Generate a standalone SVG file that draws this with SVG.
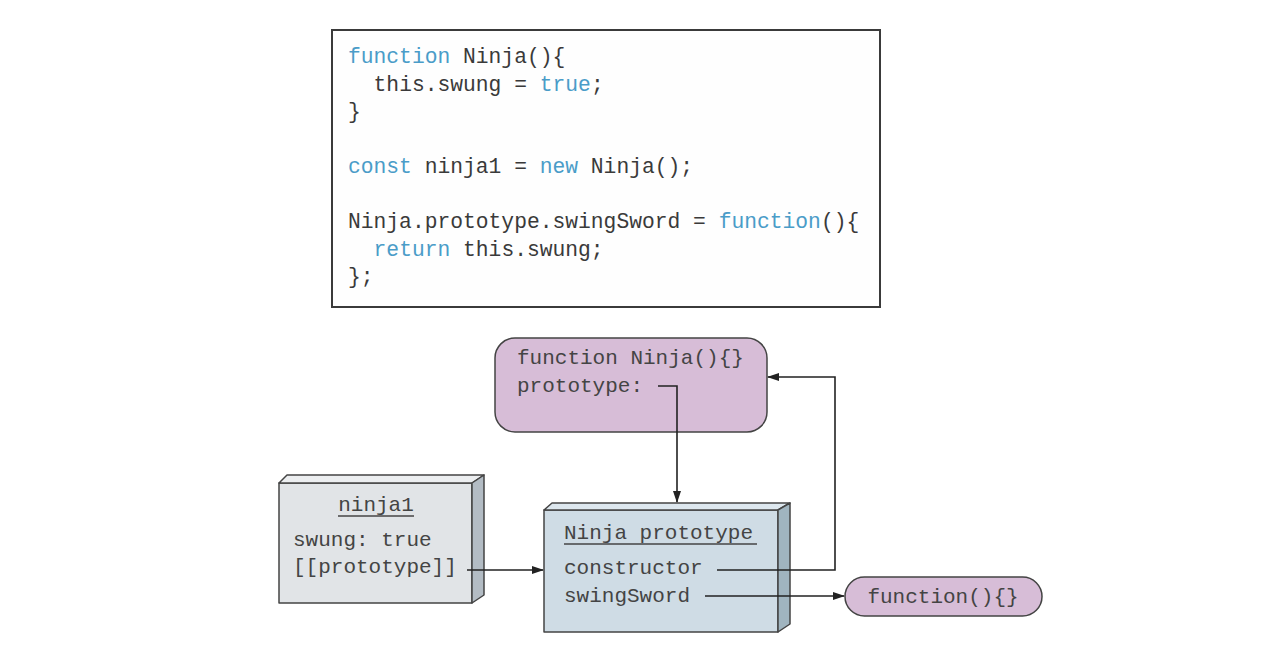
<svg xmlns="http://www.w3.org/2000/svg" width="1280" height="648" viewBox="0 0 1280 648">
<style>
.code{font-family:"Liberation Mono","DejaVu Sans Mono",monospace;font-size:21.3px;fill:#3a3a3a}
.kw{fill:#4a9cc8}
.t{font-family:"Liberation Mono","DejaVu Sans Mono",monospace;font-size:21px;fill:#444}
.edge{fill:none;stroke:#222;stroke-width:1.6}
.ul{stroke:#444;stroke-width:1.5}
.box{stroke:#444;stroke-width:1.5;stroke-linejoin:round}
</style>
<defs>
<marker id="ah" markerWidth="12" markerHeight="10" refX="11" refY="5" orient="auto" markerUnits="userSpaceOnUse">
<path d="M0,1 L12,5 L0,9 Z" fill="#222"/>
</marker>
</defs>
<rect width="1280" height="648" fill="#ffffff"/>
<g id="code">
<rect x="332" y="30" width="548" height="277" fill="#fefefe" stroke="#3a3a3a" stroke-width="2"/>
<text class="code" x="348" y="63"><tspan class="kw">function</tspan> Ninja(){</text>
<text class="code" x="373.6" y="90.5">this.swung = <tspan class="kw">true</tspan>;</text>
<text class="code" x="348" y="118">}</text>
<text class="code" x="348" y="173"><tspan class="kw">const</tspan> ninja1 = <tspan class="kw">new</tspan> Ninja();</text>
<text class="code" x="348" y="228">Ninja.prototype.swingSword = <tspan class="kw">function</tspan>(){</text>
<text class="code" x="373.6" y="256"><tspan class="kw">return</tspan> this.swung;</text>
<text class="code" x="348" y="283">};</text>
</g>
<g id="ninjaFn">
<rect x="495" y="338" width="272" height="94" rx="20" fill="#d7bdd7" class="box"/>
<text class="t" x="517" y="364">function Ninja(){}</text>
<text class="t" x="517" y="392">prototype:</text>
</g>
<g id="ninja1">
<rect x="279" y="483" width="193" height="120" fill="#e1e4e7" class="box"/>
<polygon points="279,483 287,475 484,475 472,483" fill="#eceef0" class="box"/>
<polygon points="472,483 484,475 484,595 472,603" fill="#b3bcc4" class="box"/>
<text class="t" x="376" y="511" text-anchor="middle">ninja1</text>
<line class="ul" x1="338" y1="516" x2="414" y2="516"/>
<text class="t" x="293" y="546">swung: true</text>
<text class="t" x="293" y="573">[[prototype]]</text>
</g>
<g id="ninjaProto">
<rect x="544" y="510" width="234" height="122" fill="#cfdce5" class="box"/>
<polygon points="544,510 552,503 790,503 778,510" fill="#dde7ee" class="box"/>
<polygon points="778,510 790,503 790,624 778,632" fill="#a0b4bf" class="box"/>
<text class="t" x="564" y="539">Ninja prototype</text>
<line class="ul" x1="564" y1="544" x2="757" y2="544"/>
<text class="t" x="564" y="574">constructor</text>
<text class="t" x="564" y="602">swingSword</text>
</g>
<g id="swingFn">
<rect x="845" y="577" width="197" height="39" rx="19.5" fill="#d7bdd7" class="box"/>
<text class="t" x="943" y="603" text-anchor="middle">function(){}</text>
</g>
<g id="connectors">
<path class="edge" d="M658,386 H677 V502" marker-end="url(#ah)"/>
<path class="edge" d="M717,570 H835 V377 H768" marker-end="url(#ah)"/>
<path class="edge" d="M467,570 H543" marker-end="url(#ah)"/>
<path class="edge" d="M705,596 H844" marker-end="url(#ah)"/>
</g>
</svg>
